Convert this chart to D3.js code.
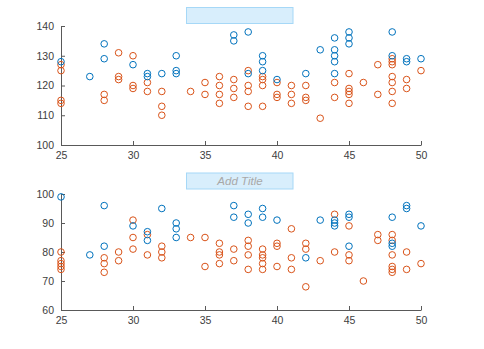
<!DOCTYPE html>
<html><head><meta charset="utf-8">
<script src="https://cdn.jsdelivr.net/npm/d3@7"></script>
<style>body{margin:0;background:#fff;}svg{display:block;font-family:"Liberation Sans",Arial,sans-serif;}</style>
</head><body><svg id="c" width="484" height="349"></svg>
<script>
// Top panel: [age, systolic]
const topBlue = [[25,128],[27,123],[28,134],[28,129],[30,127],[31,124],[31,123],[32,124],[33,130],[33,125],[33,124],
  [37,137],[37,135],[38,138],[38,124],[39,130],[39,128],[39,125],[40,122],[42,124],[43,132],[44,136],[44,132],[44,130],[44,128],[44,124],
  [45,138],[45,136],[45,134],[48,138],[48,130],[49,129],[49,128],[50,129]];
const topOrange = [[25,127],[25,125],[25,115],[25,114],[28,117],[28,115],[29,131],[29,123],[29,122],[30,130],[30,120],[30,119],
  [31,121],[31,118],[32,118],[32,113],[32,110],[34,118],[35,121],[35,117],[36,123],[36,120],[36,117],[36,114],
  [37,122],[37,119],[37,116],[38,125],[38,120],[38,118],[38,113],[39,123],[39,122],[39,120],[39,113],
  [40,121],[40,117],[40,116],[41,120],[41,117],[41,114],[42,120],[42,116],[42,115],[43,109],[44,121],[44,116],
  [45,124],[45,119],[45,118],[45,117],[45,114],[46,121],[47,127],[47,117],[48,129],[48,128],[48,127],[48,123],[48,121],[48,118],[48,114],
  [49,122],[49,119],[50,125]];
// Bottom panel: [age, diastolic]
const botBlue = [[25,99],[27,79],[28,96],[28,82],[30,89],[31,87],[31,84],[32,95],[33,90],[33,88],[33,85],
  [37,96],[37,92],[38,93],[38,90],[39,95],[39,92],[40,91],[42,78],[43,91],[44,91],[44,90],[44,89],[45,93],[45,92],[45,82],
  [48,92],[48,83],[48,82],[49,96],[49,95],[50,89]];
const botOrange = [[25,80],[25,77],[25,76],[25,75],[25,74],[28,78],[28,76],[28,73],[29,80],[29,77],[30,91],[30,85],[30,81],
  [31,86],[31,79],[32,82],[32,80],[32,78],[34,85],[35,85],[35,75],[36,83],[36,80],[36,79],[36,76],[37,81],[37,77],
  [38,84],[38,82],[38,79],[38,74],[39,81],[39,79],[39,78],[39,76],[39,74],[40,83],[40,82],[40,75],[41,88],[41,78],[41,74],
  [42,83],[42,81],[42,68],[43,77],[44,93],[44,80],[45,89],[45,79],[45,77],[46,70],[47,86],[47,84],
  [48,86],[48,84],[48,79],[48,75],[48,74],[48,73],[49,80],[49,74],[50,76]];
const xTicks = [25,30,35,40,45,50];
const topYTicks = [100,110,120,130,140];
const botYTicks = [60,70,80,90,100];
const titleText = ["", "Add Title"];

const svg = d3.select("#c");
const BLUE = "#0072BD", ORANGE = "#D95319", AX = "#595959";

function panel(top, bottom, yDomain, yTicks, blue, orange, title, boxY) {
  const x = d3.scaleLinear().domain([25,50]).range([61,421]);
  const y = d3.scaleLinear().domain(yDomain).range([bottom, top]);
  const g = svg.append("g");
  const xa = g.append("g").attr("transform", `translate(0,${bottom})`)
    .call(d3.axisBottom(x).tickValues(xTicks).tickSizeInner(-4).tickSizeOuter(0).tickPadding(7));
  const ya = g.append("g").attr("transform", `translate(61,0)`)
    .call(d3.axisLeft(y).tickValues(yTicks).tickSizeInner(-4).tickSizeOuter(0).tickPadding(7));
  [xa, ya].forEach(a => {
    a.select(".domain").attr("stroke", AX).attr("stroke-width", 1);
    a.selectAll(".tick line").attr("stroke", AX);
    a.selectAll(".tick text").attr("fill", "#404040").style("font-size", "10.5px").style("font-family", '"Liberation Sans",Arial,sans-serif');
  });
  g.append("g").selectAll("circle.o").data(orange).join("circle")
    .attr("cx", d => x(d[0])).attr("cy", d => y(d[1])).attr("r", 3.3)
    .attr("fill", "none").attr("stroke", ORANGE).attr("stroke-width", 1);
  g.append("g").selectAll("circle.b").data(blue).join("circle")
    .attr("cx", d => x(d[0])).attr("cy", d => y(d[1])).attr("r", 3.3)
    .attr("fill", "none").attr("stroke", BLUE).attr("stroke-width", 1);
  g.append("rect").attr("x", 186.5).attr("y", boxY).attr("width", 106.5).attr("height", 16)
    .attr("fill", "#d8eefc").attr("stroke", "#a6d8f7").attr("stroke-width", 1);
  g.append("text").attr("x", 240).attr("y", boxY + 12).attr("text-anchor", "middle")
    .attr("fill", "#a8a8a8").style("font-style", "italic").style("font-size", "11.5px")
    .text(title);
}
panel(26, 145, [100,140], topYTicks, topBlue, topOrange, titleText[0], 7.5);
panel(194, 310, [60,100], botYTicks, botBlue, botOrange, titleText[1], 173);
</script></body></html>
